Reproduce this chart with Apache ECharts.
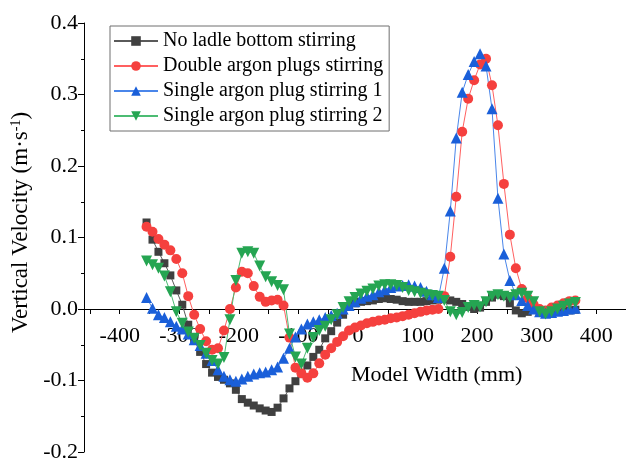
<!DOCTYPE html>
<html>
<head>
<meta charset="utf-8">
<style>
  html, body { margin: 0; padding: 0; background: #fff; }
  #chart { width: 626px; height: 462px; }
</style>
<script src="https://cdn.jsdelivr.net/npm/echarts@6/dist/echarts.min.js"></script>
</head>
<body>
<div id="chart"></div>
<script>
// Positions across the ladle model (mm)
const modelWidth = [
  -355, -345, -335, -325, -315, -305, -295, -285, -275, -265,
  -255, -245, -235, -225, -215, -205, -195, -185, -175, -165,
  -155, -145, -135, -125, -115, -105, -95, -85, -75, -65,
  -55, -45, -35, -25, -15, -5, 5, 15, 25, 35,
  45, 55, 65, 75, 85, 95, 105, 115, 125, 135,
  145, 155, 165, 175, 185, 195, 205, 215, 225, 235,
  245, 255, 265, 275, 285, 295, 305, 315, 325, 335,
  345, 355, 365
];

// Vertical velocity (m/s) for each stirring case
const noStirring = [
  0.121, 0.097, 0.080, 0.064, 0.047, 0.026, 0.006, -0.022, -0.044, -0.060,
  -0.077, -0.089, -0.095, -0.099, -0.104, -0.113, -0.126, -0.131, -0.135, -0.139,
  -0.142, -0.144, -0.138, -0.125, -0.111, -0.101, -0.091, -0.079, -0.067, -0.057,
  -0.041, -0.031, -0.019, -0.008, 0.003, 0.008, 0.010, 0.011, 0.012, 0.014,
  0.015, 0.014, 0.013, 0.011, 0.010, 0.010, 0.010, 0.011, 0.012, 0.013,
  0.014, 0.012, 0.010, 0.007, 0.003, 0.000, 0.002, 0.010, 0.016, 0.020,
  0.018, 0.008, -0.002, -0.006, -0.004, 0.000, -0.004, -0.006, -0.005, -0.004,
  -0.003, -0.002, -0.001
];

const doublePlugs = [
  0.115, 0.108, 0.098, 0.090, 0.082, 0.070, 0.050, 0.018, -0.008, -0.028,
  -0.045, -0.057, -0.055, -0.030, 0.000, 0.030, 0.052, 0.050, 0.032, 0.017,
  0.010, 0.012, 0.013, 0.005, -0.040, -0.082, -0.090, -0.096, -0.090, -0.076,
  -0.064, -0.055, -0.046, -0.038, -0.030, -0.026, -0.023, -0.020, -0.018, -0.016,
  -0.015, -0.013, -0.012, -0.010, -0.008, -0.006, -0.004, -0.002, -0.001, 0.000,
  0.018, 0.073, 0.157, 0.248, 0.294, 0.320, 0.342, 0.350, 0.313, 0.257,
  0.175, 0.104, 0.057, 0.028, 0.015, 0.006, 0.000, -0.002, 0.002, 0.005,
  0.008, 0.011, 0.012
];

const singlePlug1 = [
  0.016, 0.001, -0.008, -0.012, -0.018, -0.024, -0.028, -0.035, -0.043, -0.051,
  -0.062, -0.072, -0.085, -0.094, -0.099, -0.101, -0.098, -0.094, -0.091, -0.089,
  -0.088, -0.085, -0.081, -0.069, -0.055, -0.039, -0.028, -0.021, -0.018, -0.015,
  -0.012, -0.009, -0.006, 0.000, 0.005, 0.010, 0.015, 0.018, 0.020, 0.024,
  0.027, 0.030, 0.032, 0.033, 0.034, 0.032, 0.030, 0.025, 0.020, 0.016,
  0.057, 0.137, 0.239, 0.303, 0.328, 0.346, 0.357, 0.340, 0.280, 0.155,
  0.077, 0.040, 0.020, 0.012, 0.005, 0.000, -0.004, -0.006, -0.005, -0.003,
  -0.002, 0.000, 0.001
];

const singlePlug2 = [
  0.067, 0.062, 0.057, 0.046, 0.024, -0.004, -0.020, -0.032, -0.041, -0.051,
  -0.062, -0.072, -0.077, -0.068, -0.015, 0.040, 0.078, 0.080, 0.078, 0.060,
  0.045, 0.038, 0.033, 0.027, -0.035, -0.067, -0.077, -0.055, -0.040, -0.030,
  -0.024, -0.015, -0.008, 0.002, 0.010, 0.016, 0.021, 0.025, 0.028, 0.032,
  0.034, 0.034, 0.033, 0.030, 0.026, 0.024, 0.022, 0.020, 0.019, 0.018,
  0.012, -0.004, -0.008, -0.005, 0.002, 0.005, 0.003, 0.010, 0.018, 0.020,
  0.018, 0.016, 0.020, 0.022, 0.018, 0.010, -0.004, -0.007, -0.004, 0.000,
  0.004, 0.007, 0.009
];

const seriesNames = [
  'No ladle bottom stirring',
  'Double argon plugs stirring',
  'Single argon plug stirring 1',
  'Single argon plug stirring 2'
];

// Labelled positions on the width axis, and every tick (labelled + halfway)
const widthLabels = [-400, -300, -200, -100, 0, 100, 200, 300, 400];
const widthTicks = [-450, -400, -350, -300, -250, -200, -150, -100, -50, 0,
                    50, 100, 150, 200, 250, 300, 350, 400];

const serifFont = '"Liberation Serif", "Times New Roman", serif';

// Plot area and value ranges
const plotLeft = 84, plotTop = 23, plotBottom = 10;
const widthMin = -460, widthMax = 450;
const velMin = -0.2, velMax = 0.4;
const plotHeight = 462 - plotTop - plotBottom;
// The width labels sit just under the zero-velocity line
const zeroLineLift = plotHeight * (0 - velMin) / (velMax - velMin);

function pairs(values) {
  return modelWidth.map((x, i) => [x, values[i]]);
}

function lineSeries(name, values, symbol, size, markColor, lineColor, rotate) {
  return {
    name: name,
    type: 'line',
    data: pairs(values),
    symbol: symbol,
    symbolSize: size,
    symbolRotate: rotate || 0,
    showAllSymbol: true,
    itemStyle: { color: markColor },
    lineStyle: { color: lineColor, width: 1 },
    emphasis: { disabled: true },
    animation: false
  };
}

const chart = echarts.init(document.getElementById('chart'), null, { renderer: 'canvas' });

chart.setOption({
  backgroundColor: '#ffffff',
  animation: false,
  grid: { left: plotLeft, right: 0, top: plotTop, bottom: plotBottom, containLabel: false, outerBoundsMode: 'none' },
  legend: {
    data: seriesNames,
    orient: 'vertical',
    left: 110,
    top: 26,
    padding: [5, 6, 5, 3],
    itemWidth: 44,
    itemHeight: 12,
    itemGap: 5,
    borderColor: '#6e6e6e',
    borderWidth: 1,
    backgroundColor: '#ffffff',
    textStyle: { fontFamily: serifFont, fontSize: 20, color: '#000', lineHeight: 20 }
  },
  xAxis: [
    {
      // axis line and ticks along zero velocity
      type: 'value',
      min: widthMin,
      max: widthMax,
      axisLine: { onZero: true, lineStyle: { color: '#000', width: 1 } },
      axisTick: { show: true, customValues: widthTicks, length: 5, lineStyle: { color: '#000' } },
      axisLabel: { show: false },
      splitLine: { show: false }
    },
    {
      // tick labels for the same axis
      type: 'value',
      position: 'bottom',
      offset: -zeroLineLift,
      min: widthMin,
      max: widthMax,
      axisLine: { show: false, onZero: false },
      axisTick: { show: false },
      axisLabel: {
        customValues: widthLabels,
        fontFamily: serifFont,
        fontSize: 22,
        color: '#000',
        margin: 16
      },
      splitLine: { show: false }
    }
  ],
  yAxis: {
    type: 'value',
    position: 'left',
    min: velMin,
    max: velMax,
    interval: 0.1,
    name: 'Vertical Velocity (m·s{sup|-1})',
    nameLocation: 'middle',
    nameGap: 47,
    nameRotate: 90,
    nameTextStyle: {
      fontFamily: serifFont,
      fontSize: 23,
      color: '#000',
      padding: [0, 0, 0, 30],
      rich: {
        sup: { fontFamily: serifFont, fontSize: 14, color: '#000', verticalAlign: 'bottom', padding: [0, 0, 9, 0] }
      }
    },
    axisLine: { show: true, onZero: false, lineStyle: { color: '#000', width: 1 } },
    axisTick: { show: true, length: 6, lineStyle: { color: '#000' } },
    minorTick: { show: true, splitNumber: 2, length: 3, lineStyle: { color: '#000' } },
    axisLabel: {
      fontFamily: serifFont,
      fontSize: 22,
      color: '#000',
      margin: 6,
      formatter: v => v.toFixed(1)
    },
    splitLine: { show: false },
    minorSplitLine: { show: false }
  },
  graphic: [
    {
      type: 'text',
      left: 351,
      top: 364,
      style: {
        text: 'Model Width (mm)',
        font: '22px ' + serifFont,
        fill: '#000'
      }
    }
  ],
  series: [
    lineSeries(seriesNames[0], noStirring, 'rect', 8, '#404040', '#5a5a5a'),
    lineSeries(seriesNames[1], doublePlugs, 'circle', 10, '#f5403e', '#ff6060'),
    lineSeries(seriesNames[2], singlePlug1, 'triangle', 11, '#1a5fd9', '#4a86ea'),
    lineSeries(seriesNames[3], singlePlug2, 'triangle', 11, '#25a552', '#4cbc73', 180)
  ]
});
</script>
</body>
</html>
